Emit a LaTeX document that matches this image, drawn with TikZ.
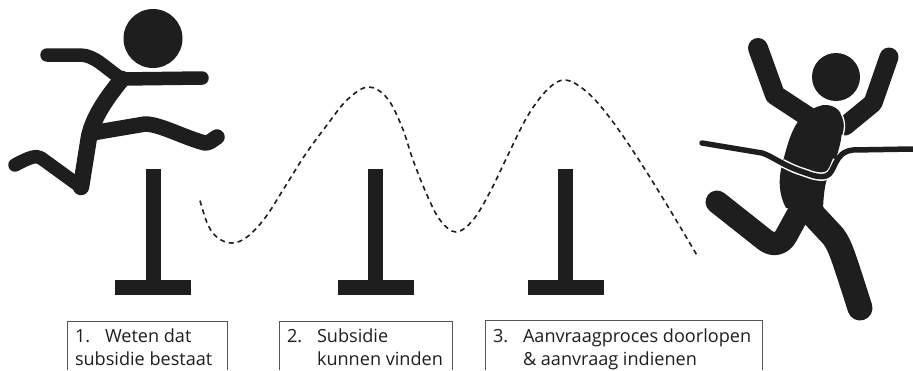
\documentclass[tikz,border=0pt]{standalone}
\usepackage{fontspec}
\setmainfont{Open Sans}
\definecolor{ink}{HTML}{1E1E1E}
\definecolor{framec}{HTML}{555555}
\tikzset{
  limb/.style={draw=ink,line width=#1,line cap=round,line join=round},
  hurdle/.style={fill=ink,draw=none},
  frameline/.style={draw=framec,line width=0.9pt},
  num/.style={anchor=base west,inner sep=0pt,outer sep=0pt,text=ink,font=\fontsize{18.1}{21}\selectfont},
  route/.style={draw=ink,line width=1.6pt,dash pattern=on 5pt off 4pt}
}
\begin{document}
\begin{tikzpicture}[x=1pt,y=-1pt]
\useasboundingbox (0,0) rectangle (913,370);
\fill[white] (0,0) rectangle (913,370);
% left runner
\fill[ink] (153,38.5) circle (29.5);
\draw[limb=13.5pt] (47,55) -- (80,55) .. controls (95,55) and (105,68) .. (122,79) -- (202,78);
\draw[limb=16.5pt] (122,79) .. controls (105,100) and (93,118) .. (89,137) -- (81,187);
\draw[limb=13.5pt] (81,187) -- (41,158) .. controls (36,155) and (30,157) .. (15,165);
\draw[limb=15.5pt] (92,133) -- (145,124) .. controls (160,124) and (185,138) .. (205,143) .. controls (210,143) and (212,140) .. (217,137);
% hurdles
\foreach \n/\sx/\bx in {a/146/115,b/368/338,c/558/528}{
  \fill[hurdle] (\sx,169) rectangle (\sx+15,281);
  \fill[hurdle] (\bx,280) rectangle (\bx+76,294.5);
}
% dashed route
\draw[route] plot[smooth,tension=0.6] coordinates {(200,200.7) (208,225) (218,238) (232,243) (247,237) (265,218) (283,190) (305,155) (327,125) (347,100) (368,87) (387,98) (402,127) (413,160) (427,195) (440,220) (456,232) (473,220) (490,192) (507,157) (527,117) (547,90) (565,80) (587,92) (610,118) (637,157) (667,205) (698,257)};
% right runner
\fill[ink] (836,77) circle (24);
\draw[limb=19pt] (889,57) -- (873,103) -- (845,126);
\draw[limb=20pt] (758,48) -- (775,95) -- (810,118);
\fill[ink] (823,105) .. controls (835,104) and (843,112) .. (843,122) .. controls (842,140) and (838,155) .. (832,168) .. controls (825,180) and (824,190) .. (823,208) -- (786,208)
  .. controls (779,195) and (778,180) .. (782,165) .. controls (790,135) and (795,112) .. (823,105) -- cycle;
\draw[white,line width=1.3pt] (841,113) .. controls (846,122) and (845,130) .. (842,138);
\draw[limb=23pt] (717,202) -- (765,240) .. controls (774,247) and (782,243) .. (786,236) -- (803,205);
\draw[limb=25pt] (806,207) -- (833,236) .. controls (840,245) and (843,255) .. (860,308);
\draw[white,line width=8.5pt] (782,163) .. controls (790,167) and (796,170) .. (803,172) .. controls (812,175) and (818,178) .. (826,176) .. controls (833,174) and (834,166) .. (837,160);
\draw[limb=5.5pt] (702,143) -- (762,153) .. controls (772,156) and (782,165) .. (803,172) .. controls (812,175) and (818,178) .. (826,176) .. controls (836,173) and (833,152) .. (853,150) -- (913,149);
% labels
\path[frameline] (67,370) -- (67,321) -- (227,321) -- (227,370);
\path[frameline] (279,370) -- (279,321) -- (452,321) -- (452,370);
\path[frameline] (485,370) -- (485,320.5) -- (762,320.5) -- (762,370);
\node[num] (n1) at (75,342) {1.};
\node[num] (t1a) at (105,342) {Weten dat};
\node[num] (t1b) at (75,365) {subsidie bestaat};
\node[num] (n2) at (287,342) {2.};
\node[num] (t2a) at (317,342) {Subsidie};
\node[num] (t2b) at (317,365) {kunnen vinden};
\node[num] (n3) at (493,342) {3.};
\node[num] (t3a) at (523,342) {Aanvraagproces doorlopen};
\node[num] (t3b) at (523,365) {\& aanvraag indienen};
\end{tikzpicture}
\end{document}
